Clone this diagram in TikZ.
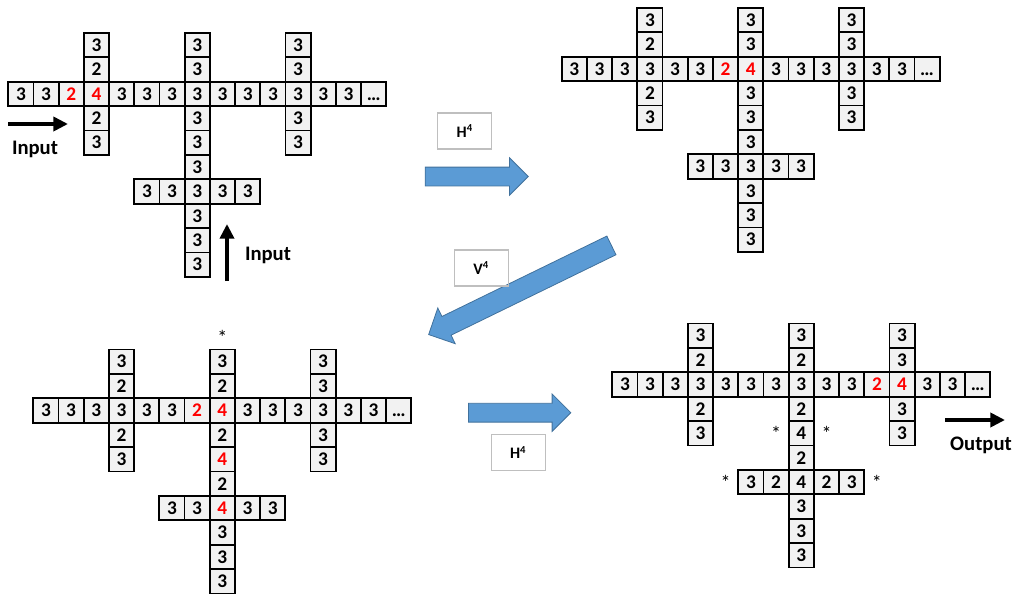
\documentclass[tikz,border=0pt]{standalone}
\usepackage{fontspec}
\setmainfont{Carlito}
\usepackage{tikz}
\usetikzlibrary{positioning}
\usetikzlibrary{shapes.arrows}
\usetikzlibrary{arrows.meta}
\definecolor{cellColor}{HTML}{F2F2F2}
\definecolor{markColor}{HTML}{FF0000}
\definecolor{stepColor}{HTML}{5B9BD5}
\definecolor{stepEdgeColor}{HTML}{41719C}
\definecolor{labelEdgeColor}{HTML}{BFBFBF}
\newcommand{\rd}[1]{\textcolor{markColor}{#1}}
\newcommand{\cw}{25.2}
\newcommand{\ch}{24.4}
\tikzset{
  cell/.style={draw, line width=1.4pt, fill=cellColor, minimum width=18.9pt, minimum height=18.3pt,
    inner sep=0pt, outer sep=0pt, font=\fontsize{14.5}{14.5}\selectfont\bfseries},
  starNote/.style={inner sep=0pt, font=\fontsize{15}{15}\selectfont},
  stepArrow/.style={single arrow, draw=stepEdgeColor, fill=stepColor, line width=0.6pt,
    inner xsep=0pt, inner ysep=6.75pt, single arrow head extend=7pt, single arrow tip angle=90},
  stepLabel/.style={draw=labelEdgeColor, line width=0.8pt, minimum width=40.3pt, minimum height=27pt,
    font=\fontsize{12}{12}\selectfont\bfseries},
  flowArrow/.style={line width=3pt, -{Triangle[length=11pt,width=10.5pt]}},
  flowText/.style={font=\fontsize{15.5}{15.5}\selectfont\bfseries}
}
\begin{document}
\begin{tikzpicture}[x=0.75pt, y=-0.75pt]
  \useasboundingbox (0,0) rectangle (1020,596);

  % input grid
  \begin{scope}[shift={(8.3,32.9)}]
    \foreach \t [count=\i from 0] in {3,3,\rd{2},\rd{4},3,3,3,3,3,3,3,3,3,3,\vphantom{3}…}
      \node[cell] (tl-\i-2) at ({(\i+.5)*\cw},{2.5*\ch}) {\t};
    \foreach \i/\r/\t in {3/0/3, 3/1/2, 3/3/2, 3/4/3,
        7/0/3, 7/1/3, 7/3/3, 7/4/3, 7/5/3, 5/6/3, 6/6/3, 7/6/3, 8/6/3, 9/6/3, 7/7/3, 7/8/3, 7/9/3,
        11/0/3, 11/1/3, 11/3/3, 11/4/3}
      \node[cell] (tl-\i-\r) at ({(\i+.5)*\cw},{(\r+.5)*\ch}) {\t};
  \end{scope}
  \coordinate (inA) at (8,124);
  \coordinate (inB) at (68,124);
  \draw[flowArrow] (inA) -- (inB);
  \node[flowText] (inText) at (35,149) {Input};
  \coordinate (inC) at (227,281);
  \coordinate (inD) at (227,224);
  \draw[flowArrow] (inC) -- (inD);
  \node[flowText] (inText2) at (268,255) {Input};

  % after first horizontal pass
  \begin{scope}[shift={(561.7,7.9)}]
    \foreach \t [count=\i from 0] in {3,3,3,3,3,3,\rd{2},\rd{4},3,3,3,3,3,3,\vphantom{3}…}
      \node[cell] (tr-\i-2) at ({(\i+.5)*\cw},{2.5*\ch}) {\t};
    \foreach \i/\r/\t in {3/0/3, 3/1/2, 3/3/2, 3/4/3,
        7/0/3, 7/1/3, 7/3/3, 7/4/3, 7/5/3, 5/6/3, 6/6/3, 7/6/3, 8/6/3, 9/6/3, 7/7/3, 7/8/3, 7/9/3,
        11/0/3, 11/1/3, 11/3/3, 11/4/3}
      \node[cell] (tr-\i-\r) at ({(\i+.5)*\cw},{(\r+.5)*\ch}) {\t};
  \end{scope}

  % after vertical pass
  \begin{scope}[shift={(33.3,349.5)}]
    \foreach \t [count=\i from 0] in {3,3,3,3,3,3,\rd{2},\rd{4},3,3,3,3,3,3,\vphantom{3}…}
      \node[cell] (bl-\i-2) at ({(\i+.5)*\cw},{2.5*\ch}) {\t};
    \foreach \i/\r/\t in {3/0/3, 3/1/2, 3/3/2, 3/4/3,
        7/0/3, 7/1/2, 7/3/2, 7/4/\rd{4}, 7/5/2, 5/6/3, 6/6/3, 7/6/\rd{4}, 8/6/3, 9/6/3, 7/7/3, 7/8/3, 7/9/3,
        11/0/3, 11/1/3, 11/3/3, 11/4/3}
      \node[cell] (bl-\i-\r) at ({(\i+.5)*\cw},{(\r+.5)*\ch}) {\t};
    \node[starNote] (bl-s) at ({7.5*\cw},{-.5*\ch}) {*};
  \end{scope}

  % output grid
  \begin{scope}[shift={(612.3,323.5)}]
    \foreach \t [count=\i from 0] in {3,3,3,3,3,3,3,3,3,3,\rd{2},\rd{4},3,3,\vphantom{3}…}
      \node[cell] (br-\i-2) at ({(\i+.5)*\cw},{2.5*\ch}) {\t};
    \foreach \i/\r/\t in {3/0/3, 3/1/2, 3/3/2, 3/4/3,
        7/0/3, 7/1/2, 7/3/2, 7/4/4, 7/5/2, 5/6/3, 6/6/2, 7/6/4, 8/6/2, 9/6/3, 7/7/3, 7/8/3, 7/9/3,
        11/0/3, 11/1/3, 11/3/3, 11/4/3}
      \node[cell] (br-\i-\r) at ({(\i+.5)*\cw},{(\r+.5)*\ch}) {\t};
    \foreach \i/\r in {6/4, 8/4, 4/6, 10/6}
      \node[starNote] (br-s-\i-\r) at ({(\i+.5)*\cw},{(\r+.5)*\ch}) {*};
  \end{scope}
  \coordinate (outA) at (945,420);
  \coordinate (outB) at (1005,420);
  \draw[flowArrow] (outA) -- (outB);
  \node[flowText] (outText) at (981,445) {Output};

  % passes
  \node[stepArrow, minimum height=77.3pt] (pass1) at (472,176.5) {};
  \node[stepLabel] (pass1-l) at (464.8,131) {H\textsuperscript{4}};
  \node[stepArrow, minimum height=152.5pt, rotate=206, inner ysep=7.5pt, single arrow head extend=7.1pt] (pass2) at (524.7,287.7) {};
  \node[stepLabel] (pass2-l) at (481.2,268) {V\textsuperscript{4}};
  \node[stepArrow, minimum height=76.7pt] (pass3) at (515,412.7) {};
  \node[stepLabel] (pass3-l) at (518.2,452.5) {H\textsuperscript{4}};
\end{tikzpicture}
\end{document}
